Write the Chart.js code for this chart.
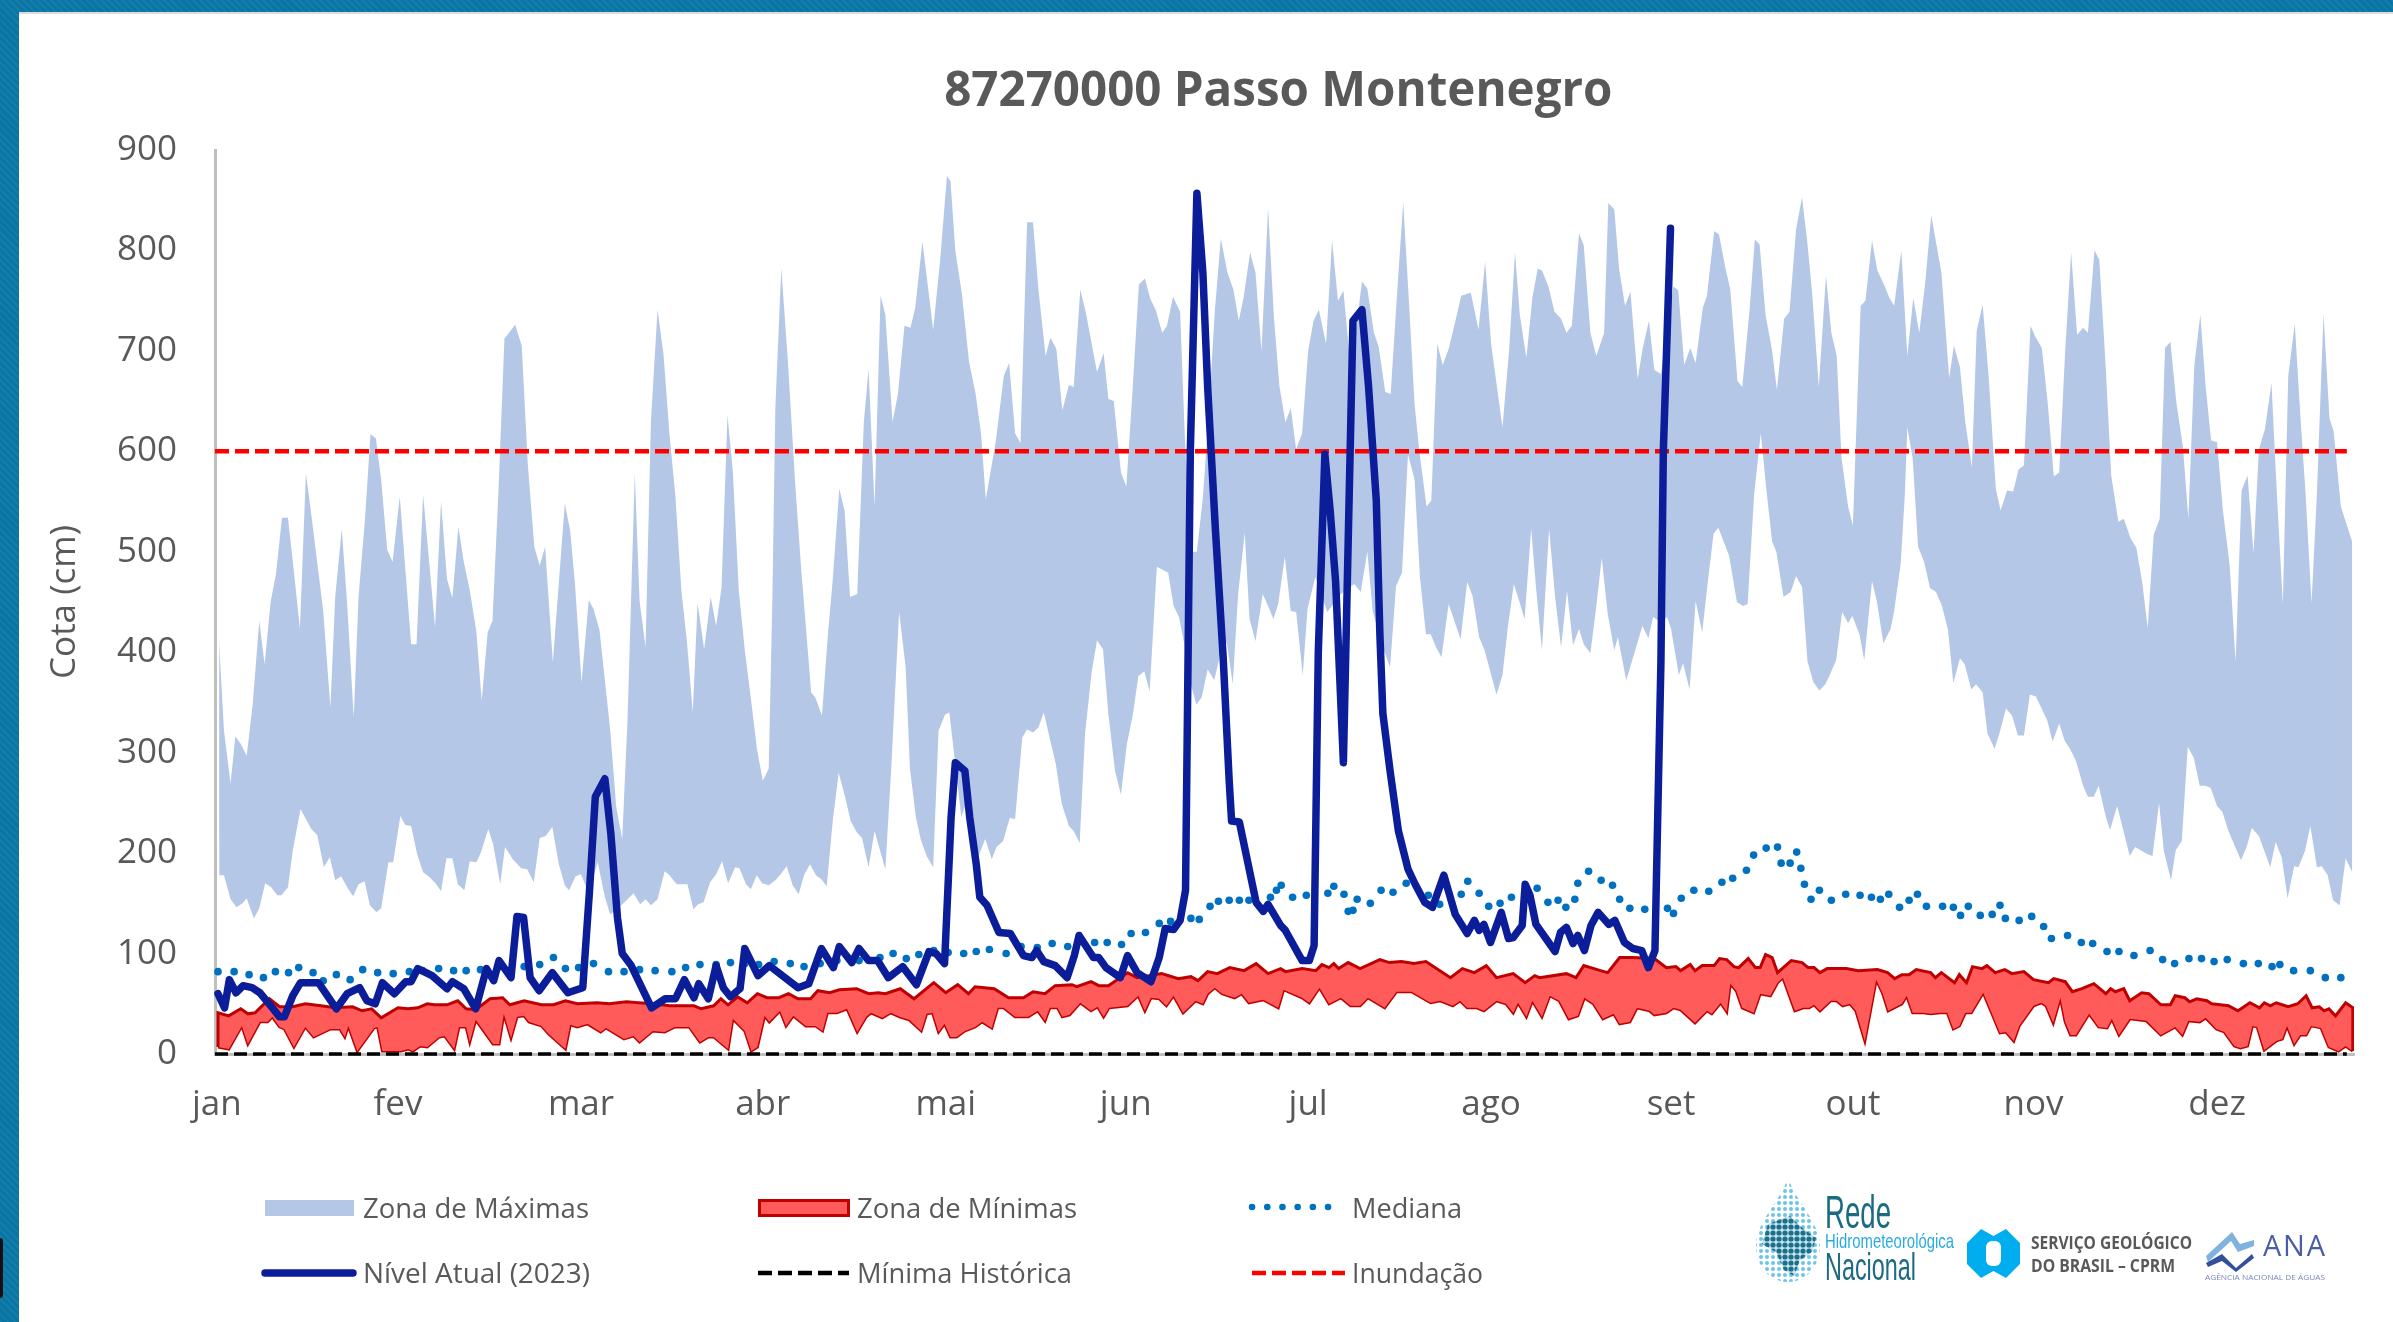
<!DOCTYPE html>
<html lang="pt-BR">
<head>
<meta charset="utf-8">
<title>87270000 Passo Montenegro</title>
<script src="https://cdn.jsdelivr.net/npm/chart.js@4"></script>
<style>
  html, body { margin: 0; width: 2393px; height: 1322px; overflow: hidden; background: #0a79a8; }
  body { position: relative; background-image: repeating-linear-gradient(45deg, rgba(255,255,255,.035) 0 2px, rgba(0,0,0,.035) 2px 5px); }
  #panel { position: absolute; left: 19px; top: 12px; right: 0; bottom: 0; background: #fff; border-top: 2px solid #dcdcdc; box-sizing: border-box; }
  #chart { position: absolute; left: 0; top: 0; }
  #overlay { position: absolute; left: 0; top: 0; }
  #smudge { position: absolute; left: 0; top: 1238px; width: 3px; height: 60px; background: #111; border-radius: 0 3px 3px 0; }
</style>
</head>
<body>
<div id="panel"></div>
<div id="smudge"></div>
<canvas id="chart" width="2393" height="1322"></canvas>
<svg id="overlay" width="2393" height="1322" font-family="'Open Sans'">
  <defs>
    <pattern id="dotsLight" width="6" height="6" patternUnits="userSpaceOnUse"><circle cx="3" cy="3" r="2" fill="#6cc4ea"/></pattern>
    <pattern id="dotsDark" width="6" height="6" patternUnits="userSpaceOnUse"><rect width="6" height="6" fill="#bfe6f6"/><circle cx="3" cy="3" r="2.6" fill="#1f6e86"/></pattern>
  </defs>
  <!-- legenda -->
  <rect x="265" y="1200" width="89" height="16" fill="#b4c7e7"/>
  <rect x="759.5" y="1200.5" width="89" height="15" fill="#ff5b5b" stroke="#c00000" stroke-width="3"/>
  <line x1="1252" y1="1207" x2="1343" y2="1207" stroke="#0070c0" stroke-width="6.5" stroke-linecap="round" stroke-dasharray="0.1 15.1"/>
  <line x1="265" y1="1273" x2="353" y2="1273" stroke="#0b1d99" stroke-width="7.5" stroke-linecap="round"/>
  <line x1="758" y1="1273" x2="849" y2="1273" stroke="#000" stroke-width="4.5" stroke-dasharray="14 6"/>
  <line x1="1252" y1="1273" x2="1345" y2="1273" stroke="#f00" stroke-width="4.5" stroke-dasharray="14 6"/>
  <g font-size="27" fill="#595959">
    <text x="363" y="1218" textLength="226" lengthAdjust="spacingAndGlyphs">Zona de Máximas</text>
    <text x="857" y="1218" textLength="220" lengthAdjust="spacingAndGlyphs">Zona de Mínimas</text>
    <text x="1352" y="1218" textLength="110" lengthAdjust="spacingAndGlyphs">Mediana</text>
    <text x="363" y="1283" textLength="227" lengthAdjust="spacingAndGlyphs">Nível Atual (2023)</text>
    <text x="857" y="1283" textLength="215" lengthAdjust="spacingAndGlyphs">Mínima Histórica</text>
    <text x="1352" y="1283" textLength="131" lengthAdjust="spacingAndGlyphs">Inundação</text>
  </g>
  <!-- logos -->
  <path d="M1788 1178 C1796 1202 1820 1222 1820 1246 C1820 1266 1806 1282 1788 1282 C1770 1282 1756 1266 1756 1246 C1756 1222 1780 1202 1788 1178 Z" fill="url(#dotsLight)"/>
  <path d="M1768 1224 L1790 1216 L1800 1226 L1816 1238 L1812 1252 L1800 1260 L1794 1276 L1784 1270 L1776 1252 L1762 1244 Z" fill="url(#dotsDark)"/>
  <g font-family="'Liberation Sans'">
    <text x="1825" y="1228" font-size="46" fill="#1b6b82" textLength="66" lengthAdjust="spacingAndGlyphs">Rede</text>
    <text x="1825" y="1248" font-size="21" fill="#29abe2" textLength="129" lengthAdjust="spacingAndGlyphs">Hidrometeorológica</text>
    <text x="1825" y="1280" font-size="39" fill="#1b6b82" textLength="91" lengthAdjust="spacingAndGlyphs">Nacional</text>
  </g>
  <path d="M1981 1229 L1993.5 1236 L2006 1229 L2020 1243 L2020 1264 L2006 1278 L1993.5 1271 L1981 1278 L1967 1264 L1967 1243 Z" fill="#00aeef"/>
  <rect x="1986" y="1241" width="15" height="25" rx="6" fill="#fff"/>
  <g font-weight="700" font-size="17" fill="#595959">
    <text x="2031" y="1249" textLength="161" lengthAdjust="spacingAndGlyphs">SERVIÇO GEOLÓGICO</text>
    <text x="2031" y="1272" textLength="144" lengthAdjust="spacingAndGlyphs">DO BRASIL – CPRM</text>
  </g>
  <path d="M2206 1256 L2232 1232 L2240 1244 L2254 1240 L2254 1246 L2238 1252 L2231 1241 L2208 1262 Z" fill="#7fb2dc"/>
  <path d="M2206 1263 L2222 1254 L2236 1268 L2252 1254 L2254 1258 L2236 1272 L2222 1261 L2208 1267 Z" fill="#35509a"/>
  <text x="2263" y="1256" font-size="29" fill="#4a5ea8" textLength="62" lengthAdjust="spacing">ANA</text>
  <text x="2205" y="1280" font-size="7" fill="#7a86b8" textLength="120" lengthAdjust="spacingAndGlyphs">AGÊNCIA NACIONAL DE ÁGUAS</text>
</svg>
<script>
/* 87270000 Passo Montenegro — cotas diárias, pares [dia, cota em cm] */

const CHART_TITLE = '87270000 Passo Montenegro';
const MONTH_LABELS = ['jan', 'fev', 'mar', 'abr', 'mai', 'jun', 'jul', 'ago', 'set', 'out', 'nov', 'dez'];
const MONTH_DAYS = [0.3, 30.6, 61.2, 91.6, 122.2, 152.3, 182.8, 213.4, 243.5, 273.9, 304.1, 334.8];
const Y_TICKS = [0, 100, 200, 300, 400, 500, 600, 700, 800, 900];

const maxTop = [[0.6,418],[1.5,322],[2.6,269],[3.4,316],[4.3,309],[5.3,297],[6.3,348],[7.4,431],[8.3,388],[9.3,450],[10.2,478],[11.2,534],[12.2,534],[13,491],[14.2,423],[15.2,578],[16,542],[18.1,441],[19.3,345],[20.1,455],[21.2,523],[22.1,448],[23.2,335],[24,455],[25.1,534],[26,617],[26.9,613],[27.8,571],[28.8,502],[29.7,490],[30.9,555],[31.8,485],[32.8,408],[33.7,408],[34.8,557],[36.8,425],[37.8,550],[38.8,473],[39.7,454],[40.7,525],[41.6,490],[42.6,462],[43.7,421],[44.6,352],[45.6,420],[46.4,431],[47.4,560],[48.4,712],[50.2,726],[51.3,705],[52.3,588],[53.4,505],[54.3,486],[55.2,505],[56.5,390],[57.7,485],[58.5,548],[59.4,521],[60.2,468],[61.3,370],[62.5,452],[63.3,443],[64.3,422],[66.1,322],[67.1,246],[68.1,214],[69,335],[70.2,578],[71,451],[72,405],[72.9,630],[74,741],[75,697],[76,617],[77,555],[78,461],[78.9,412],[79.9,340],[80.7,449],[81.8,403],[82.9,455],[83.8,426],[84.7,464],[85.7,636],[86.6,580],[87.6,461],[88.6,402],[89.8,345],[90.6,305],[91.6,272],[92.6,284],[93.2,451],[93.7,643],[94.7,782],[95.8,690],[97,570],[98,485],[99.7,360],[100.4,355],[101.5,337],[102.5,418],[103.3,472],[104.4,563],[105.3,540],[106.2,455],[107.4,458],[108.5,629],[109.3,682],[110.3,545],[111.3,755],[112.1,736],[113.3,629],[114.2,657],[115.3,725],[116.3,723],[117.1,743],[118.3,809],[120.1,721],[121.3,793],[122.4,874],[123,869],[123.8,800],[124.9,757],[126.1,689],[127.2,657],[128.1,618],[128.9,552],[130.6,611],[131.9,675],[132.8,688],[133.8,618],[134.7,608],[135.8,828],[136.8,828],[137.7,761],[138.9,695],[139.7,713],[140.7,702],[141.7,641],[142.8,666],[143.6,664],[144.7,761],[145.6,739],[146.7,704],[147.5,679],[148.6,698],[149.4,652],[150.3,650],[151.5,579],[152.4,565],[153.4,657],[154.5,766],[155.5,772],[156.4,752],[157.3,741],[158.4,718],[159.2,725],[160.2,754],[161.4,739],[162.2,611],[163.2,500],[164.2,500],[165.2,554],[166.2,640],[167.2,740],[168.2,812],[169.3,778],[170.3,761],[171.2,730],[172,753],[173.1,798],[174,778],[175,700],[176.1,842],[177.1,732],[178,665],[179,629],[179.9,643],[180.8,602],[181.8,618],[182.8,700],[183.7,730],[184.6,741],[185.8,707],[186.8,810],[187.8,750],[188.7,760],[189.8,690],[190.8,720],[191.8,769],[192.7,762],[193.8,718],[194.6,704],[195.7,659],[196.6,657],[197.6,750],[198.7,848],[199.7,745],[200.6,647],[201.4,600],[202.6,545],[203.4,551],[204.4,707],[205.3,686],[206.3,702],[207.4,729],[208.4,755],[210,758],[211.3,721],[212.4,789],[213.4,707],[215.3,624],[216.4,700],[217.4,798],[218.2,736],[219.3,693],[220.3,753],[221.2,782],[221.9,780],[223,764],[224,739],[225.1,732],[226,718],[226.9,725],[228.1,817],[228.9,805],[230,718],[231,695],[232.3,718],[233,847],[234,841],[234.8,782],[235.8,745],[236.7,759],[237.9,672],[238.8,704],[239.8,730],[240.7,681],[241.8,677],[242.8,720],[243.9,764],[244.7,760],[245.7,686],[246.7,703],[247.6,688],[248.8,743],[249.5,755],[250.7,819],[251.5,816],[252.6,782],[253.4,761],[254.6,670],[255.4,664],[256.6,739],[257.5,811],[258.3,806],[259.3,736],[260.4,700],[261.2,661],[262.4,732],[263.3,739],[264.4,821],[265.4,853],[266.3,807],[267.1,757],[268.2,664],[269.4,775],[270.3,718],[271.2,695],[272,593],[273.1,545],[273.9,526],[275.2,745],[276,750],[277.1,810],[278,780],[279.1,766],[280,753],[280.8,745],[282,800],[283,695],[284,753],[285,718],[286,768],[287,835],[288.7,778],[290,673],[290.8,705],[291.8,684],[292.7,629],[293.8,584],[294.6,720],[295.6,746],[296.6,675],[297.8,563],[298.6,541],[299.7,561],[300.7,560],[301.6,582],[302.5,586],[303.6,725],[304.5,713],[305.5,703],[306.5,647],[307.5,575],[308.4,579],[309.4,700],[310.4,798],[311.4,716],[312.4,723],[313.2,718],[314.3,800],[315.1,791],[316.2,682],[317.1,576],[318.3,530],[319.2,533],[320.3,514],[321.3,504],[322.3,469],[323.2,424],[324.2,517],[325.2,533],[326.1,703],[327,709],[328,648],[329.1,604],[330,533],[331,686],[332,736],[332.9,664],[333.8,611],[334.8,609],[335.8,540],[336.9,487],[337.9,391],[338.9,561],[339.9,576],[340.9,499],[341.8,602],[342.8,622],[343.9,668],[344.8,558],[345.8,448],[346.7,675],[347.8,727],[348.8,629],[349.6,558],[350.6,449],[351.5,558],[352.6,737],[353.6,633],[354.3,620],[355.5,545],[357.4,510]];

const maxBottom = [[0.7,178],[1.5,178],[2.6,154],[3.6,146],[4.6,150],[5.3,155],[6.5,135],[7.4,145],[8.4,170],[9.4,166],[10.4,158],[11.1,158],[12.2,166],[13,202],[14.3,244],[16.1,224],[17.1,218],[18.2,186],[19.2,196],[20.1,173],[21.1,177],[22.1,166],[23.1,157],[24,169],[25,172],[25.9,148],[27,141],[27.8,145],[29,191],[29.8,191],[31,237],[31.8,228],[32.8,227],[33.8,199],[34.8,181],[35.9,176],[37,169],[37.8,162],[38.7,195],[39.7,195],[40.6,169],[41.7,163],[42.6,192],[43.7,191],[44.5,201],[45.7,224],[46.5,209],[47.7,169],[48.5,206],[49.8,194],[51.2,185],[52.2,184],[53.3,171],[54.3,215],[55.3,217],[56.4,226],[57.5,189],[58.5,168],[59.2,163],[60.3,177],[61.2,179],[62.5,160],[64,191],[65.2,156],[66.1,139],[68.3,150],[70,160],[71.1,149],[72,154],[72.9,148],[74,154],[75.2,182],[76,178],[77.2,169],[79,169],[80,144],[80.8,149],[81.7,151],[82.8,171],[83.8,179],[84.8,192],[85.8,170],[87,186],[87.7,185],[88.8,169],[89.6,164],[90.6,178],[91.5,170],[92.6,168],[93.7,173],[94.6,179],[95.6,187],[96.6,168],[97.6,159],[98.5,178],[99.5,189],[100.5,178],[101.4,174],[102.3,167],[103.3,232],[104.3,280],[105.4,255],[106.3,232],[107.3,221],[108.2,215],[109.3,186],[110.3,222],[112.1,184],[113.1,285],[114.4,440],[115.5,385],[116.2,285],[117.2,236],[118,214],[119,197],[120.1,186],[121,322],[122.1,338],[122.8,340],[123.6,299],[124.8,236],[125.6,250],[127.6,196],[128.8,214],[129.9,194],[130.7,206],[131.8,212],[132.9,235],[133.8,234],[135,315],[135.8,323],[136.8,320],[137.7,325],[138.6,340],[139.8,309],[140.6,289],[141.6,249],[142.8,227],[143.6,222],[144.6,210],[145.5,319],[146.6,380],[147.5,412],[148.5,403],[149.4,338],[150.5,282],[151.5,258],[152.5,309],[153.5,338],[154.4,376],[155.4,381],[156.3,361],[157.5,485],[159.4,479],[160.3,446],[161.2,435],[162.1,408],[163.1,370],[164.1,348],[165,355],[166,383],[167.1,372],[168.2,400],[169.2,410],[170.2,368],[171.1,458],[172.2,519],[173,433],[174,411],[175.2,458],[176.1,446],[177,433],[177.8,448],[178.9,495],[179.9,441],[180.8,440],[181.9,377],[182.7,443],[184,475],[186,440],[188.3,458],[190.5,468],[191.6,460],[192.7,500],[193.6,441],[195,410],[196.5,385],[197.5,466],[198.5,479],[199.5,597],[200.6,572],[201.5,475],[202.5,418],[203.3,418],[204.2,405],[205.1,395],[206.3,448],[208.3,413],[209.4,470],[210.3,456],[211.4,415],[212.3,402],[214.3,358],[215.3,377],[216.2,425],[217.2,468],[218.1,451],[219,433],[220.1,523],[220.9,465],[221.9,402],[223.1,523],[224.1,455],[225.1,405],[226.1,461],[227.1,407],[228.1,423],[228.9,408],[230,399],[230.9,441],[231.9,494],[232.9,438],[234,402],[234.6,415],[236,372],[237.4,400],[238.7,426],[239.7,414],[240.5,435],[241.7,430],[242.8,435],[243.5,423],[244.8,377],[245.5,389],[246.6,363],[247.6,451],[248.7,420],[249.6,468],[250.6,518],[251.4,524],[253.2,496],[254.5,450],[255.5,446],[256.3,448],[257.4,558],[258.5,618],[259.5,558],[260.4,510],[261.1,500],[262.3,455],[263.5,460],[264.4,476],[265.4,465],[266.3,391],[267.3,370],[268.3,362],[269.3,368],[270,377],[271.1,392],[272.1,440],[273.1,429],[273.8,436],[275,418],[275.8,392],[277.1,471],[277.9,451],[279,409],[280.2,423],[280.8,441],[281.9,488],[282.6,558],[283,624],[283.9,593],[284.8,505],[285.8,490],[286.8,464],[287.8,460],[288.8,446],[289.8,422],[290.7,369],[291.8,394],[292.6,388],[293.7,363],[294.5,368],[295.6,360],[296.4,319],[297.6,304],[298.4,319],[299.5,344],[300.5,337],[301.5,317],[302.5,317],[303.5,358],[304.5,356],[306.4,332],[307.3,311],[308.4,329],[309.3,312],[310.2,304],[311.2,292],[312.4,267],[313.2,256],[314.2,256],[315,267],[316.2,236],[316.9,223],[318.1,247],[320.2,197],[321.1,206],[323.1,199],[324,197],[325.1,250],[325.9,202],[327.1,173],[327.9,203],[328.9,212],[329.9,306],[330.9,295],[331.9,267],[332.8,267],[333.7,265],[334.8,247],[335.7,241],[336.7,222],[338.8,193],[339.8,207],[340.6,225],[341.8,217],[343.7,186],[344.6,211],[345.6,196],[346.6,155],[347.7,187],[348.4,186],[349.5,202],[350.4,227],[351.5,186],[352.3,187],[353.3,178],[354.2,153],[355.3,148],[356.3,195],[357.4,181]];

const minTop = [[0.5,7],[0.5,41],[2.3,38],[4.3,45],[5.5,40],[6.7,41],[9.1,55],[10.8,47],[13,47],[15.1,50],[17.7,48],[20.1,46],[23,47],[24.6,43],[26.2,45],[27.8,36],[30.6,46],[32.3,45],[33.9,46],[35.5,50],[36.7,49],[38.8,49],[40.6,53],[42,45],[43.6,44],[46,55],[48.1,56],[49.3,49],[51.7,53],[54.6,49],[56.6,49],[58.6,53],[60.6,50],[63.9,51],[65.9,50],[68.8,52],[70.8,51],[73.2,50],[76,48],[80.1,48],[81.3,45],[83.4,48],[84.6,55],[85.8,49],[87.4,57],[89,51],[90.7,60],[92.3,56],[94.3,56],[95.9,60],[97.5,55],[99.6,55],[100.8,63],[102.8,61],[104.4,64],[107.3,65],[109.3,60],[110.9,61],[112.1,60],[114.6,65],[116.9,55],[120.2,71],[122.2,61],[124.2,69],[126,60],[127.1,67],[130.3,65],[132.7,56],[135.2,56],[136.8,62],[138.8,60],[140.5,68],[143.3,69],[144.1,67],[146.5,72],[147.8,68],[149.4,68],[152.6,81],[154.2,76],[158.3,80],[161.1,75],[163.2,77],[164.4,73],[166,82],[167.6,80],[169.7,86],[172.1,83],[174.1,90],[176.1,80],[178.2,85],[179,82],[181.8,85],[184.1,83],[185.1,89],[186.3,86],[187.1,90],[187.9,85],[189.5,91],[191.5,85],[194.8,94],[196.4,91],[198.4,92],[200.5,90],[202.5,92],[206.6,76],[208.6,85],[210.6,81],[212.6,88],[214.3,76],[217.1,80],[219.1,71],[220.7,78],[221.5,76],[226,80],[227.6,76],[228.9,88],[231.7,83],[232.9,81],[234.9,96],[237,96],[240.7,95],[242.7,86],[244.3,87],[245.1,83],[246.7,89],[247.5,83],[248.7,88],[250.7,88],[251.6,95],[252.8,94],[254,87],[254.8,86],[256.4,95],[257.6,86],[258.4,86],[259.3,99],[260.4,96],[261.3,81],[263.6,93],[265.4,91],[266.4,86],[267.4,86],[268.4,81],[269.6,85],[272.8,85],[274.8,83],[278,84],[279.7,81],[280.9,75],[282.1,79],[283.3,79],[284.5,84],[286.9,81],[287.7,76],[288.7,81],[290.9,71],[291.7,79],[292.9,71],[293.9,87],[295.5,85],[296.3,88],[297.7,81],[299.3,84],[300.5,80],[302.5,82],[304.1,74],[306.6,71],[307.5,75],[309.4,72],[310.6,62],[312.2,65],[314.2,70],[316.2,60],[317,65],[317.8,62],[319.2,65],[320.2,53],[322.2,61],[323.4,60],[325.4,49],[327,49],[327.8,58],[329.4,56],[330.2,52],[331.4,55],[333.1,53],[333.9,50],[336.7,48],[338.3,43],[340.3,51],[341.9,46],[342.7,51],[343.7,48],[344.7,51],[346.7,47],[348.3,50],[349.7,58],[350.7,46],[351.9,47],[352.7,43],[353.5,45],[354.6,38],[356.3,51],[357.5,46],[357.5,3]];

const minBottom = [[0.5,7],[2.3,5],[4.5,28],[5.5,10],[7.5,32],[8.8,32],[9.6,37],[10.8,27],[11.6,25],[13.2,7],[15.1,27],[16.5,17],[19.3,25],[20.9,25],[21.7,17],[22.3,28],[23.8,3],[26.6,26],[27.2,27],[28,3],[31.1,3],[32.3,5],[33.1,3],[34.3,8],[35.5,7],[37.5,17],[38.4,18],[40,5],[40.8,27],[42,27],[42.6,12],[43.6,34],[46.5,10],[47.5,10],[48.3,40],[49.5,16],[50.5,37],[51.7,38],[52.5,32],[54.6,28],[55.8,20],[58.6,5],[59.4,29],[60.6,27],[62.3,30],[64.5,22],[65.4,26],[68.4,15],[70,18],[71,12],[73.2,23],[75.2,22],[76.9,27],[79.3,27],[81.1,12],[82.5,17],[83.4,17],[85.8,5],[86.6,35],[88.6,23],[89.7,3],[90.7,7],[91.9,38],[92.7,32],[94.5,43],[95.5,28],[96.7,38],[98.8,28],[100.4,28],[101.6,23],[102.4,41],[104,41],[105.7,45],[107.4,22],[108.9,37],[109.7,41],[111.6,36],[113,41],[114.5,37],[116.1,34],[118.1,23],[119,40],[120,41],[121,22],[122,30],[123,17],[124,17],[125.4,23],[127.1,27],[128.3,32],[129.9,26],[130.9,46],[131.9,46],[133.8,37],[136,37],[137.6,43],[138.8,33],[139.6,46],[140.9,46],[141.7,37],[142.9,39],[144.7,51],[146.5,43],[147.6,47],[148.6,37],[149.5,46],[152.6,48],[154.4,58],[155.5,43],[156.5,56],[157.9,55],[159.1,48],[160.3,58],[161.9,41],[164,53],[165.2,50],[166,60],[167.2,66],[168.4,60],[170.5,56],[171.7,60],[172.9,51],[175.3,54],[177.8,46],[178.7,64],[181.8,56],[183,51],[184.7,66],[186.3,50],[188.3,56],[189.9,48],[191.5,48],[192.8,56],[195.6,46],[197.6,62],[200.1,62],[203.3,51],[204.9,53],[207,48],[208.2,53],[209.4,46],[211,46],[212.2,43],[214.3,53],[215.9,50],[217.1,41],[217.9,51],[219.3,37],[220.3,53],[221.9,37],[223.2,58],[224.8,53],[226.4,35],[227.9,38],[229,56],[230.5,50],[232.1,35],[233.9,40],[234.9,30],[236.6,32],[237.8,46],[239.9,43],[240.7,39],[242.7,41],[243.9,46],[245.1,44],[247.5,31],[249.5,43],[250.3,40],[251.8,51],[252.8,42],[253.4,70],[254.4,63],[255.4,46],[257.3,41],[258.4,60],[260.1,58],[261.3,71],[262.2,76],[264.2,43],[265.6,46],[266.6,46],[267.4,49],[268.4,43],[270.2,53],[271.2,53],[272.2,48],[273.4,50],[274.4,43],[275.9,13],[277.8,74],[278.9,60],[279.8,43],[282.1,50],[282.9,58],[283.9,41],[285.7,41],[286.9,40],[288.5,41],[289.7,41],[290.7,25],[291.7,28],[292.7,41],[293.7,41],[295.7,61],[298.5,21],[299.5,22],[300.8,13],[301.7,28],[304.1,48],[305.4,51],[306.2,48],[307.4,31],[308.6,56],[309.4,32],[310.3,19],[311.2,19],[313.4,40],[315,27],[316.4,26],[317.2,35],[318.4,19],[320.2,35],[323,33],[325.4,19],[327.8,27],[329,19],[330,33],[331.9,32],[332.9,36],[334.7,25],[336,22],[337.7,8],[338.7,6],[339.9,8],[340.7,28],[341.5,27],[342.7,4],[344.7,13],[345.7,15],[346.5,28],[347.7,10],[348.7,19],[349.7,19],[350.5,28],[352.2,26],[353.5,7],[355.1,3],[356.3,8],[357.5,3]];

const mediana = [[0.5,82],[3.2,82],[5.7,79],[8.1,76],[10.1,82],[12.3,81],[14,86],[16.4,81],[18.1,73],[20.3,79],[22.6,74],[24.7,84],[27.2,81],[29.8,80],[32.5,82],[34.7,83],[37.4,85],[39.9,83],[42,83],[44.4,84],[47.3,86],[51.7,87],[54.3,89],[56.6,96],[58.6,85],[60.8,86],[63.3,90],[65.8,82],[68.4,82],[71,84],[73.6,83],[76.4,82],[78.7,86],[81.1,89],[83.8,89],[86.2,91],[88.6,90],[90.9,89],[93.5,92],[96.2,90],[98.5,87],[101.2,90],[104,93],[107.7,93],[111.2,96],[113.4,100],[115.6,95],[117.7,99],[120.2,103],[122.6,101],[125.2,100],[127.3,102],[129.5,104],[132.3,100],[134.8,107],[137.5,106],[140,110],[142.6,107],[147.1,111],[149.2,111],[151.6,109],[153.2,120],[155.6,121],[157.9,130],[159.8,132],[163.2,135],[164.6,134],[166.4,147],[167.8,152],[169.6,153],[171.3,153],[172.9,153],[176.5,156],[177.5,163],[178.3,168],[180.2,156],[182.5,158],[186.1,160],[187.1,167],[188.8,159],[189.5,142],[190.3,143],[191,154],[193.2,150],[195,163],[197,161],[199.2,170],[202.9,158],[204.8,149],[208.4,159],[209.5,172],[211.4,160],[213,147],[214.9,150],[216.8,156],[219.1,159],[221.1,165],[222.9,151],[224.6,153],[225.9,146],[227.4,154],[227.9,170],[229.7,182],[231.8,173],[233.7,168],[234.9,154],[236.6,145],[239.1,144],[242.9,145],[243.9,140],[245.2,155],[247.3,163],[249.8,162],[252,171],[253.8,175],[256.1,183],[257.3,198],[259.4,205],[261.3,206],[261.9,190],[263.4,190],[264.5,201],[265.2,185],[265.8,169],[266.9,154],[268.3,163],[270.3,153],[272.7,159],[275.1,158],[277,156],[278.5,154],[279.9,159],[281.7,146],[283.3,153],[284.7,159],[286.2,147],[288.9,147],[290.7,146],[291.9,138],[293.2,147],[295.2,138],[297.2,139],[298.5,148],[299.4,135],[301.7,133],[303.8,137],[305.8,127],[307.1,115],[309.8,118],[312.1,111],[314,110],[316.4,102],[318.4,102],[320.9,98],[323.6,103],[325.7,94],[327.7,90],[330.1,95],[332.2,95],[334.3,92],[336.5,94],[339.2,90],[341.7,90],[344,87],[345.3,89],[347.6,83],[350.4,83],[352.9,76],[355.5,76]];

const nivelAtual = [[0.5,60],[1.6,46],[2.4,74],[3.5,61],[4.7,68],[6.2,66],[7.5,61],[9.6,46],[10.8,37],[11.6,37],[13,58],[14.3,71],[17.3,71],[20.3,45],[22.1,60],[24.2,66],[25.4,53],[26.8,50],[28,71],[30,60],[31.9,72],[32.8,72],[33.9,85],[36.3,78],[38.8,65],[39.7,72],[41.6,65],[43.6,45],[45.4,85],[46.6,73],[47.5,93],[49.5,76],[50.5,137],[51.6,136],[52.7,76],[54.2,63],[56.4,81],[59,61],[61.5,66],[62.6,160],[63.6,256],[65.2,274],[66.2,219],[67.3,136],[68.1,100],[69.6,88],[73,46],[75.3,55],[77,55],[78.5,74],[80.1,56],[80.9,70],[82.5,55],[83.8,88],[85,66],[86.2,57],[87.8,65],[88.6,105],[90.8,78],[92.7,88],[97.5,66],[99.3,70],[101.4,105],[103.4,86],[104.4,107],[106.5,91],[107.7,105],[109.3,93],[110.8,93],[112.6,76],[115,87],[117.3,69],[119.4,102],[120.6,100],[122,90],[123.1,236],[123.8,290],[125.4,282],[126.2,236],[127.3,189],[127.9,156],[129.1,148],[131.1,121],[133,120],[135.2,98],[136.6,96],[137.4,103],[138.6,92],[140.5,88],[142.5,76],[143.7,98],[144.5,118],[146.9,96],[147.8,96],[149,86],[151.4,76],[152.6,98],[154.2,81],[156.5,72],[157.9,96],[158.9,125],[160.3,124],[161.4,133],[162.3,163],[163.1,600],[164.2,857],[165.2,778],[166,664],[167.3,522],[168.6,394],[169.6,272],[170,232],[171.3,231],[174.1,151],[175.3,142],[176.1,149],[178.2,128],[179,123],[181.8,93],[183,93],[183.8,108],[184.5,400],[185.6,597],[186.5,540],[187.4,470],[188.7,290],[190.3,730],[191.8,741],[192.9,665],[194.2,551],[194.8,418],[195.3,339],[196.5,282],[197.9,222],[199.5,184],[200.7,169],[202.3,151],[203.6,146],[205.5,178],[207.4,139],[209.4,120],[210.6,133],[211.4,123],[212.2,129],[213.3,111],[215.1,141],[216.3,115],[217.1,116],[218.6,128],[219.1,169],[219.9,158],[220.9,129],[222.8,113],[224.1,102],[225,121],[226,126],[227.1,110],[227.9,118],[229,103],[230.1,128],[231.3,141],[233.1,129],[234.1,133],[235.7,111],[237.1,105],[238.6,103],[239.7,86],[240.8,103],[241.8,391],[242.2,600],[243.4,822]];

const minimaHistorica = [[0,0],[356.5,0]];
const inundacao = [[0,600],[356.5,600]];

const toPoints = rows => rows.map(r => ({ x: r[0], y: r[1] }));

const AXIS_TEXT = '#595959';
const AXIS_LINE = '#bfbfbf';
const AXIS_FONT = { family: "'Open Sans'", size: 35 };

new Chart(document.getElementById('chart'), {
  type: 'line',
  data: {
    datasets: [
      { label: 'Nível Atual (2023)', data: toPoints(nivelAtual), borderColor: '#0b1d99', borderWidth: 7.5,
        borderJoinStyle: 'round', borderCapStyle: 'round', pointRadius: 0, tension: 0, order: 1, clip: false },
      { label: 'Inundação', data: toPoints(inundacao), borderColor: '#ff0000', borderWidth: 4.5,
        borderDash: [14, 6], pointRadius: 0, order: 2, clip: false },
      { label: 'Mínima Histórica', data: toPoints(minimaHistorica), borderColor: '#000000', borderWidth: 3.5,
        borderDash: [13, 6], pointRadius: 0, order: 3, clip: false },
      { label: 'Mediana', data: toPoints(mediana), showLine: false, pointRadius: 3.8, pointBorderWidth: 0,
        pointBackgroundColor: '#0070c0', order: 4, clip: false },
      { label: 'Zona de Mínimas', data: toPoints(minTop), borderColor: '#c00000', borderWidth: 3,
        backgroundColor: '#ff5b5b', fill: { target: 5 }, pointRadius: 0, order: 5 },
      { label: 'Zona de Mínimas (base)', data: toPoints(minBottom), borderColor: '#c00000', borderWidth: 3,
        pointRadius: 0, order: 5 },
      { label: 'Zona de Máximas', data: toPoints(maxTop), borderWidth: 0, borderColor: 'transparent',
        backgroundColor: '#b4c7e7', fill: { target: 7 }, pointRadius: 0, order: 6 },
      { label: 'Zona de Máximas (base)', data: toPoints(maxBottom), borderWidth: 0, borderColor: 'transparent',
        pointRadius: 0, order: 6 }
    ]
  },
  options: {
    responsive: false,
    animation: false,
    layout: { padding: { left: 0, right: 39, top: 0, bottom: 168 } },
    plugins: {
      legend: { display: false },
      tooltip: { enabled: false },
      title: {
        display: true,
        // título centrado na área do gráfico; o nbsp puxa uns pixels para a esquerda, como no original
        fullSize: false,
        text: CHART_TITLE + '\u00a0',
        color: AXIS_TEXT,
        font: { family: "'Open Sans'", size: 47.5, weight: '700' },
        padding: { top: 64, bottom: 29 }
      }
    },
    scales: {
      x: {
        type: 'linear',
        min: 0,
        max: 357.7,
        afterFit: s => { s.height = 100; },
        afterBuildTicks: s => { s.ticks = MONTH_DAYS.map(v => ({ value: v })); },
        grid: { display: false, drawTicks: false },
        border: { display: true, color: AXIS_LINE, width: 3 },
        ticks: {
          autoSkip: false,
          maxRotation: 0,
          minRotation: 0,
          padding: 30,
          color: AXIS_TEXT,
          font: AXIS_FONT,
          callback: v => MONTH_LABELS[MONTH_DAYS.indexOf(v)]
        }
      },
      y: {
        min: 0,
        max: 900,
        afterFit: s => { s.width = 215; },
        afterBuildTicks: s => { s.ticks = Y_TICKS.map(v => ({ value: v })); },
        grid: { display: false, drawTicks: false },
        border: { display: true, color: AXIS_LINE, width: 3 },
        title: {
          display: true,
          text: 'Cota (cm)',
          color: AXIS_TEXT,
          font: AXIS_FONT,
          padding: { top: 44, bottom: 0 }
        },
        ticks: { padding: 38, color: AXIS_TEXT, font: AXIS_FONT }
      }
    }
  }
});
</script>
</body>
</html>
